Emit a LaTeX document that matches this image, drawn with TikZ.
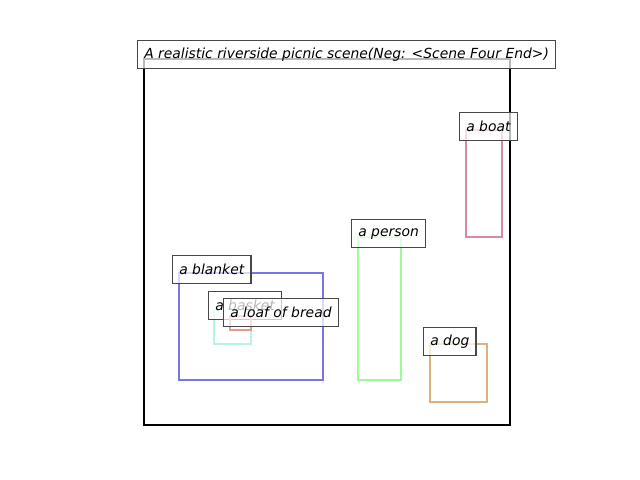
\documentclass[tikz,border=0pt]{standalone}
\usepackage{fontspec}
\setmainfont{DejaVu Sans}
\definecolor{cboat}{RGB}{216,136,164}
\definecolor{cperson}{RGB}{160,248,150}
\definecolor{cdog}{RGB}{222,176,122}
\definecolor{cblanket}{RGB}{118,118,232}
\definecolor{cbasket}{RGB}{178,245,230}
\definecolor{cloaf}{RGB}{238,150,150}
\tikzset{
  lbl/.style={draw=black!72, fill=white, fill opacity=0.72, text opacity=1, font=\fontsize{10}{12}\selectfont\itshape,
    anchor=north west, minimum height=20.16pt, inner xsep=4.8pt, inner ysep=0pt, line width=0.9pt, text=black},
  obj/.style={line width=1.9pt},
}
\begin{document}
\begin{tikzpicture}[x=0.72pt,y=-0.72pt]
\useasboundingbox (0,0) rectangle (640,480);
% scene frame
\draw[line width=1.9pt] (144,59) rectangle (510,425);
% blanket
\draw[obj, cblanket] (179,273) rectangle (323,380);
\node[lbl] (lblanket) at (172,255) {a blanket};
% basket
\draw[obj, cbasket] (214,310) rectangle (251,344);
\node[lbl] (lbasket) at (208,291) {a basket};
% loaf
\draw[obj, cloaf] (230,316) rectangle (251,330);
\node[lbl] (lloaf) at (223,298) {a loaf of bread};
% person
\draw[obj, cperson] (358,237) rectangle (401,380);
\node[lbl] (lperson) at (351,219) {a person};
% dog
\draw[obj, cdog] (430,344) rectangle (487,402);
\node[lbl] (ldog) at (423,327) {a dog};
% boat
\draw[obj, cboat] (466,130) rectangle (502,237);
\node[lbl] (lboat) at (459,112) {a boat};
% title
\node[lbl] (title) at (137,40) {A realistic riverside picnic scene(Neg: <Scene Four End>)};
\end{tikzpicture}
\end{document}
